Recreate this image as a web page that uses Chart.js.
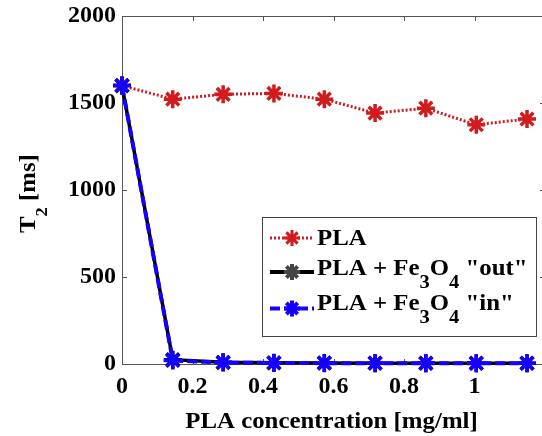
<!DOCTYPE html>
<html>
<head>
<meta charset="utf-8">
<script src="https://cdn.jsdelivr.net/npm/chart.js@4"></script>
<style>
  html, body { margin: 0; padding: 0; background: #fff; overflow: hidden; }
  #wrap { width: 560px; height: 436px; }
  #fontwarm { position: absolute; left: -999px; font: bold 20px 'Liberation Serif'; }
</style>
</head>
<body>
<div id="fontwarm">PLA 0123456789</div>
<div id="wrap"><canvas id="t2Chart" width="560" height="436"></canvas></div>
<script>
// PLA concentration [mg/ml] and T2 [ms]
const concentration = [0, 0.144, 0.287, 0.431, 0.574, 0.718, 0.862, 1.005, 1.149];
const t2Pla   = [1600, 1522, 1550, 1555, 1522, 1442, 1470, 1375, 1408];
const t2FeOut = [1600, 25, 10, 7, 6, 5, 5, 5, 5];
const t2FeIn  = [1600, 20, 8, 6, 5, 5, 4, 4, 4];
const xTicks = [0, 0.2, 0.4, 0.6, 0.8, 1];
const yTicks = [0, 500, 1000, 1500, 2000];

const RED = 'rgb(208,28,31)';
const BLUE = 'rgb(20,0,255)';
const SERIF = "'Liberation Serif', 'Times New Roman', serif";
const SX = 1.08; // the original text looks a bit wide

function pts(ys) {
  return concentration.map((x, i) => ({ x: x, y: ys[i] }));
}

// draws text pieces, some as subscripts, stretched a little in x
function drawRich(ctx, x, y, parts, size, subSize, subDrop) {
  ctx.save();
  ctx.translate(x, y);
  ctx.scale(SX, 1);
  let cx = 0;
  parts.forEach(p => {
    ctx.font = 'bold ' + (p.sub ? subSize : size) + 'px ' + SERIF;
    ctx.fillText(p.t, cx, p.sub ? subDrop : 0);
    cx += ctx.measureText(p.t).width;
  });
  ctx.restore();
}

const framePlugin = {
  id: 'frame',
  beforeDatasetsDraw(chart) {
    const ctx = chart.ctx;
    const a = chart.chartArea;
    const xs = chart.scales.x, ys = chart.scales.y;
    ctx.save();
    ctx.strokeStyle = '#555';
    ctx.lineWidth = 1;
    ctx.strokeRect(a.left + 0.5, a.top + 0.5, a.right - a.left, a.bottom - a.top);
    ctx.beginPath();
    xTicks.concat([1.2]).forEach(v => {
      const px = Math.round(xs.getPixelForValue(v)) + 0.5;
      ctx.moveTo(px, a.bottom); ctx.lineTo(px, a.bottom - 5);
      ctx.moveTo(px, a.top); ctx.lineTo(px, a.top + 5);
    });
    yTicks.forEach(v => {
      const py = Math.round(ys.getPixelForValue(v)) + 0.5;
      ctx.moveTo(a.left, py); ctx.lineTo(a.left + 5, py);
      ctx.moveTo(a.right, py); ctx.lineTo(a.right - 5, py);
    });
    ctx.stroke();
    ctx.restore();
  },
  afterDraw(chart) {
    const ctx = chart.ctx;
    ctx.save();
    ctx.fillStyle = '#000';
    ctx.textBaseline = 'alphabetic';

    // x title
    ctx.font = 'bold 23px ' + SERIF;
    const xt = 'PLA concentration [mg/ml]';
    const w = ctx.measureText(xt).width * SX;
    drawRich(ctx, 331.5 - w / 2, 428, [{ t: xt }], 23, 23, 0);

    // y title, rotated
    ctx.save();
    ctx.translate(34.5, 233);
    ctx.scale(1.1 / SX, 1);
    ctx.rotate(-Math.PI / 2);
    drawRich(ctx, 0, 0, [{ t: 'T' }, { t: '2', sub: true }, { t: ' [ms]' }], 23, 17, 12);
    ctx.restore();

    // legend
    const bx = 262, by = 217, bw = 274, bh = 119;
    ctx.fillStyle = '#fff';
    ctx.fillRect(bx, by, bw, bh);
    ctx.strokeStyle = '#444';
    ctx.lineWidth = 1;
    ctx.strokeRect(bx + 0.5, by + 0.5, bw, bh);

    const rows = [
      { color: RED, dash: [2, 2], lw: 3, star: RED, y: 238, base: 245.3,
        parts: [{ t: 'PLA' }] },
      { color: '#000', dash: [], lw: 4, star: '#444', y: 272, base: 274.5,
        parts: [{ t: 'PLA + Fe' }, { t: '3', sub: true }, { t: 'O' }, { t: '4', sub: true }, { t: ' "out"' }] },
      { color: BLUE, dash: [10, 4], lw: 4, star: BLUE, y: 308.5, base: 309.5,
        parts: [{ t: 'PLA + Fe' }, { t: '3', sub: true }, { t: 'O' }, { t: '4', sub: true }, { t: ' "in"' }] }
    ];
    rows.forEach(r => {
      ctx.save();
      ctx.strokeStyle = r.color;
      ctx.lineWidth = r.lw;
      ctx.setLineDash(r.dash);
      ctx.beginPath();
      ctx.moveTo(270, r.y); ctx.lineTo(314, r.y);
      ctx.stroke();
      ctx.setLineDash([]);
      ctx.strokeStyle = r.star;
      Chart.helpers.drawPoint(ctx, { pointStyle: 'star', radius: 8, rotation: 0, borderWidth: 1 }, 292, r.y);
      ctx.restore();
      ctx.fillStyle = '#000';
      drawRich(ctx, 317, r.base, r.parts, 23, 19, 13.5);
    });
    ctx.restore();
  }
};

const starPoints = color => ({
  pointStyle: 'star',
  pointRadius: 9,
  pointBorderWidth: 3.5,
  pointBorderColor: color,
  pointBackgroundColor: color
});

function build() {
  new Chart(document.getElementById('t2Chart'), {
    type: 'line',
    data: {
      datasets: [
        Object.assign({ label: 'PLA + Fe3O4 "in"', data: pts(t2FeIn), borderColor: BLUE,
          borderWidth: 4, borderDash: [10, 4], clip: false, tension: 0 }, starPoints(BLUE)),
        Object.assign({ label: 'PLA + Fe3O4 "out"', data: pts(t2FeOut), borderColor: '#000',
          borderWidth: 3.5, clip: false, tension: 0 }, starPoints('#000')),
        Object.assign({ label: 'PLA', data: pts(t2Pla), borderColor: RED,
          borderWidth: 3, borderDash: [2, 2], clip: false, tension: 0 }, starPoints(RED))
      ]
    },
    options: {
      responsive: false,
      animation: false,
      devicePixelRatio: 1,
      layout: { padding: { left: 0, top: 16, right: 15, bottom: 0 } },
      plugins: { legend: { display: false }, tooltip: { enabled: false } },
      scales: {
        x: {
          type: 'linear',
          min: 0, max: 1.2,
          grid: { display: false },
          border: { display: false },
          afterBuildTicks: s => { s.ticks = xTicks.map(v => ({ value: v })); },
          afterFit: s => { s.height = 72; },
          ticks: {
            padding: 0,
            color: '#000',
            maxRotation: 0,
            font: { family: SERIF, size: 24, weight: 'bold' },
            callback: v => String(+v.toFixed(1))
          }
        },
        y: {
          min: 0, max: 2000,
          grid: { display: false },
          border: { display: false },
          afterBuildTicks: s => { s.ticks = yTicks.map(v => ({ value: v })); },
          afterFit: s => { s.width = 122; },
          ticks: {
            padding: -2,
            color: '#000',
            font: { family: SERIF, size: 24, weight: 'bold', lineHeight: 1 },
            callback: v => String(v)
          }
        }
      }
    },
    plugins: [framePlugin]
  });
}

document.fonts.load("bold 24px 'Liberation Serif'").then(build, build);
</script>
</body>
</html>
